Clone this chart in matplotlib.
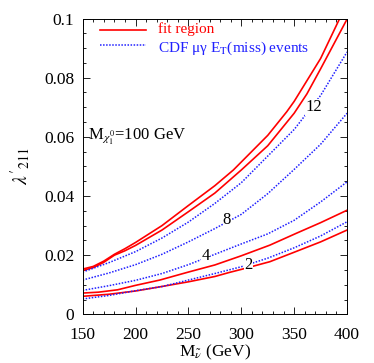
import numpy as np
import matplotlib.pyplot as plt
from matplotlib.ticker import MultipleLocator

plt.rcParams["font.family"] = "Liberation Serif"
plt.rcParams["mathtext.fontset"] = "stix"

# fit region, upper band (two red lines)
x_red_a = [150, 160, 170, 180, 190, 200, 225, 250, 275, 292.5, 300, 325, 343, 350, 375, 393]
y_red_a = [0.0153, 0.0162, 0.0180, 0.0203, 0.0222, 0.0243, 0.0300, 0.0368, 0.0435, 0.0488, 0.0515, 0.0605, 0.0685, 0.0720, 0.0865, 0.1000]
x_red_b = [150, 160, 170, 180, 190, 200, 225, 250, 275, 300, 325, 350, 362, 375, 400]
y_red_b = [0.0148, 0.0158, 0.0176, 0.0200, 0.0215, 0.0233, 0.0285, 0.0347, 0.0410, 0.0488, 0.0570, 0.0680, 0.0745, 0.0830, 0.0998]

# fit region, lower band
x_red_c = [150, 165, 183, 200, 223, 250, 275, 300, 327, 352, 375, 400]
y_red_c = [0.0072, 0.0075, 0.0083, 0.0098, 0.0116, 0.0143, 0.0167, 0.0198, 0.0234, 0.0274, 0.0310, 0.0352]
x_red_d = [150, 175, 200, 223, 250, 275, 289, 300, 327, 350, 375, 400]
y_red_d = [0.0061, 0.0068, 0.0079, 0.0093, 0.0110, 0.0128, 0.0142, 0.0152, 0.0178, 0.0210, 0.0245, 0.0285]

# CDF mu gamma ET(miss) event contours
x_cdf = [150, 175, 200, 225, 250, 275, 300, 325, 350, 375, 400]
y_cdf12 = [0.0143, 0.0175, 0.0212, 0.0258, 0.0312, 0.0375, 0.0445, 0.0535, 0.0625, 0.0740, 0.0887]
y_cdf8 = [0.0116, 0.0140, 0.0168, 0.0203, 0.0245, 0.0290, 0.0338, 0.0408, 0.0490, 0.0575, 0.0680]
y_cdf4 = [0.0081, 0.0097, 0.0115, 0.0138, 0.0168, 0.0203, 0.0238, 0.0272, 0.0318, 0.0380, 0.0448]
y_cdf2 = [0.0052, 0.0064, 0.0080, 0.0094, 0.0116, 0.0138, 0.0161, 0.0190, 0.0225, 0.0265, 0.0313]

labels_cdf = ["12", "8", "4", "2"]
label_x = [368.8, 286.5, 266.6, 306.4]
label_y = [0.0700, 0.0319, 0.0197, 0.0167]

fig = plt.figure(figsize=(3.74, 3.63), dpi=100)
ax = fig.add_axes([0.221, 0.134, 0.707, 0.815])

red = "#ff0000"
blue = "#2020ff"
dot = (0, (1, 1))

ax.plot(x_red_a, y_red_a, color=red, lw=1.2)
ax.plot(x_red_b, y_red_b, color=red, lw=1.2)
ax.plot(x_red_c, y_red_c, color=red, lw=1.2)
ax.plot(x_red_d, y_red_d, color=red, lw=1.2)
for yy in [y_cdf12, y_cdf8, y_cdf4, y_cdf2]:
    ax.plot(x_cdf, yy, color=blue, lw=1.1, ls=dot)

for t, lx, ly in zip(labels_cdf, label_x, label_y):
    ax.text(lx, ly, t, fontsize=12, ha="center", va="center",
            bbox=dict(facecolor="white", edgecolor="none", pad=0.2))

# legend drawn by hand, as in the original
ax.plot([166, 210], [0.0960, 0.0960], color=red, lw=1.2)
ax.plot([166, 210], [0.0910, 0.0910], color=blue, lw=1.1, ls=dot)
ax.text(221, 0.0963, "fit region", color=red, fontsize=11, va="center")
ax.text(221, 0.0900, r"CDF μγ E$_\mathrm{T}$(miss) events", color=blue,
        fontsize=11, va="center")

ax.text(155, 0.0600, r"M$_{\chi_1^0}$=100 GeV", fontsize=12, va="center")

ax.set_xlim(150, 400)
ax.set_ylim(0, 0.1)
ax.set_xticks([150, 200, 250, 300, 350, 400])
ax.set_yticks([0, 0.02, 0.04, 0.06, 0.08, 0.1])
ax.set_yticklabels(["0", "0.02", "0.04", "0.06", "0.08", "0.1"])
ax.xaxis.set_minor_locator(MultipleLocator(10))
ax.yaxis.set_minor_locator(MultipleLocator(0.005))
ax.tick_params(which="both", direction="in", top=True, right=True, labelsize=12.5, width=0.6)
ax.tick_params(which="major", length=5)
ax.tick_params(which="minor", length=2.5)
ax.tick_params(axis="x", which="major", pad=9)
ax.tick_params(axis="y", which="major", pad=6)
for s in ax.spines.values():
    s.set_linewidth(0.7)

ax.set_xlabel(r"M$_{\tilde{\nu}}$ (GeV)", fontsize=12.5, labelpad=0)
ax.set_ylabel(r"$\lambda'_{211}$", fontsize=14, labelpad=8)

fig.savefig("out.png", dpi=100)
